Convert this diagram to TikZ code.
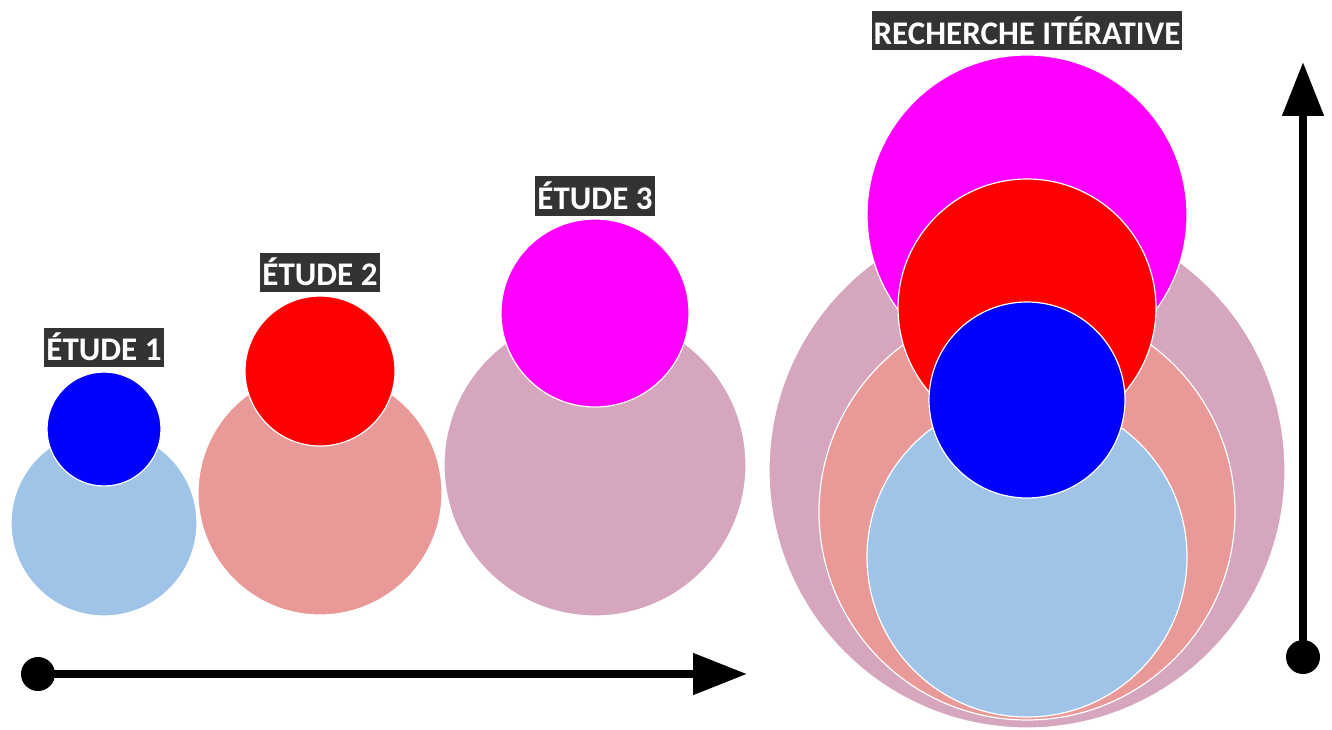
\documentclass[tikz,border=0pt]{standalone}
\usepackage{fontspec}
\setmainfont{Carlito}
\usetikzlibrary{arrows.meta}
\definecolor{lblue}{HTML}{9FC4E8}
\definecolor{salmon}{HTML}{E99A98}
\definecolor{mauve}{HTML}{D5A6BD}
\definecolor{pblue}{HTML}{0000FF}
\definecolor{pred}{HTML}{FF0000}
\definecolor{pmag}{HTML}{FF00FF}
\definecolor{boxgray}{HTML}{333333}
\begin{document}
\begin{tikzpicture}[x=1pt,y=-1pt,
  disc/.style={draw=white,line width=1.2pt},
  lab/.style={fill=boxgray,text=white,font=\fontsize{33}{36}\selectfont\bfseries,inner xsep=2pt,inner ysep=0pt,minimum height=39pt},
  axis/.style={line width=8pt,-{Triangle[width=40pt,length=54pt]}},
  dotmark/.style={circle,fill=black,minimum size=34pt,inner sep=0pt}]
\useasboundingbox (0,0) rectangle (1332,730);
% Etude 1
\fill[lblue,disc] (104,523) circle (93);
\fill[pblue,disc] (104,429) circle (57);
% Etude 2
\fill[salmon,disc] (320,493) circle (122);
\fill[pred,disc] (320,371) circle (75);
% Etude 3
\fill[mauve,disc] (595,465) circle (151);
\fill[pmag,disc] (595,313) circle (94);
% Recherche
\fill[mauve,disc] (1027,470) circle (258);
\fill[salmon,disc] (1027,512) circle (208);
\fill[lblue,disc] (1027,557) circle (160);
\fill[pmag,disc] (1027,215) circle (160);
\fill[pred,disc] (1027,308) circle (129);
\fill[pblue,disc] (1027,400) circle (98);
% labels
\node[lab] (l1) at (104,347) {ÉTUDE 1};
\node[lab] (l2) at (320,272) {ÉTUDE 2};
\node[lab] (l3) at (595,196) {ÉTUDE 3};
\node[lab] (l4) at (1027,31) {RECHERCHE ITÉRATIVE};
% axes
\node[dotmark] (h0) at (38,674) {};
\coordinate (h1) at (747,674);
\draw[axis] (h0.center) -- (h1);
\node[dotmark] (v0) at (1303,657) {};
\coordinate (v1) at (1303,62);
\draw[axis] (v0.center) -- (v1);
\end{tikzpicture}
\end{document}
